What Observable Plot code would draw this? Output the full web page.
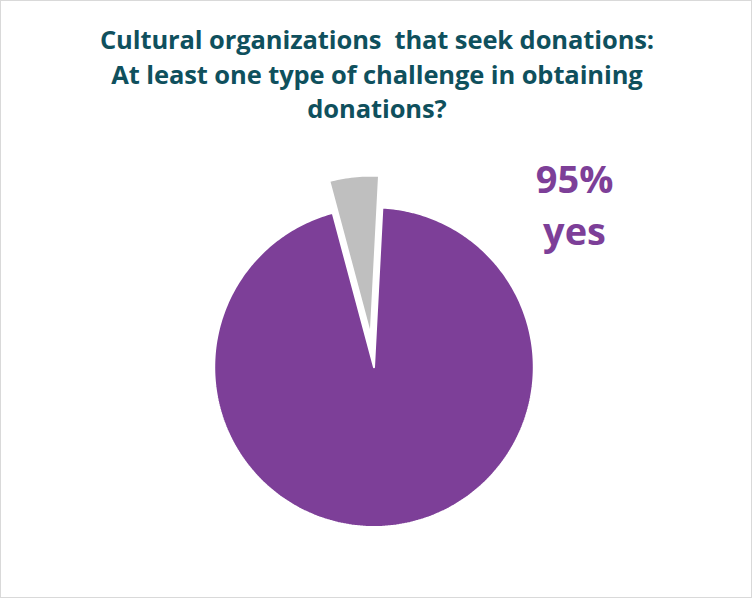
<!DOCTYPE html>
<html>
<head>
<meta charset="utf-8">
<script src="https://cdn.jsdelivr.net/npm/d3@7"></script>
<script src="https://cdn.jsdelivr.net/npm/@observablehq/plot@0.6"></script>
<style>
  html, body { margin: 0; padding: 0; background: #fff; }
  #wrap { position: relative; width: 750px; height: 596px; border: 1px solid #d9d9d9; overflow: hidden; background: #fff; }
  #title { position: absolute; left: 0; top: 21px; width: 752px; text-align: center;
    font-family: "Open Sans", sans-serif; font-weight: 700; font-size: 25.5px; line-height: 34.5px;
    color: #0f505d; white-space: pre; letter-spacing: -0.1px; }
  #chart { position: absolute; left: -1px; top: 139px; }
</style>
</head>
<body>
<div id="wrap">
  <div id="title"></div>
  <div id="chart"></div>
</div>
<script>
// ---- data ----
const titleLines = [
  "Cultural organizations  that seek donations:",
  "At least one type of challenge in obtaining",
  "donations?"
];
const categories = ["yes", "no"];
const values = [95, 5];
const colors = ["#7d3f98", "#bfbfbf"];
const explode = [0, 0.2];      // radial offset (in radius units)
const startOffsetDeg = 3;      // rotation of first slice, clockwise from 12 o'clock

document.getElementById("title").textContent = titleLines.join("\n");

// ---- geometry (angles derived from the values) ----
const total = d3.sum(values);
let acc = startOffsetDeg;
const slices = values.map((v, i) => {
  const a0 = acc, a1 = acc + v / total * 360;
  acc = a1;
  const mid = (a0 + a1) / 2 * Math.PI / 180;
  const ox = explode[i] * Math.sin(mid), oy = explode[i] * Math.cos(mid);
  const pts = [{x: ox, y: oy}];
  const n = Math.max(2, Math.ceil(a1 - a0));
  for (let k = 0; k <= n; k++) {
    const t = (a0 + (a1 - a0) * k / n) * Math.PI / 180;
    pts.push({x: ox + Math.sin(t), y: oy + Math.cos(t)});
  }
  pts.push({x: ox, y: oy});
  return {category: categories[i], color: colors[i], pts};
});

const W = 752, H = 459, R = 160, cx = 374, cy = 227;
const plot = Plot.plot({
  width: W, height: H,
  margin: 0,
  x: {domain: [-cx / R, (W - cx) / R], axis: null},
  y: {domain: [-(H - cy) / R, cy / R], axis: null},
  marks: [
    ...slices.map(s => Plot.line(s.pts, {x: "x", y: "y", fill: s.color, stroke: "white", strokeWidth: 2, strokeLinejoin: "miter"})),
    Plot.text([`${values[0]}%\n${categories[0]}`], {
      x: 1.255, y: 1.03,
      text: d => d,
      fill: colors[0],
      fontSize: 38,
      fontWeight: 700,
      fontFamily: "Open Sans, sans-serif",
      lineHeight: 1.36,
      textAnchor: "middle",
      lineAnchor: "middle"
    })
  ]
});
document.getElementById("chart").appendChild(plot);
</script>
</body>
</html>
